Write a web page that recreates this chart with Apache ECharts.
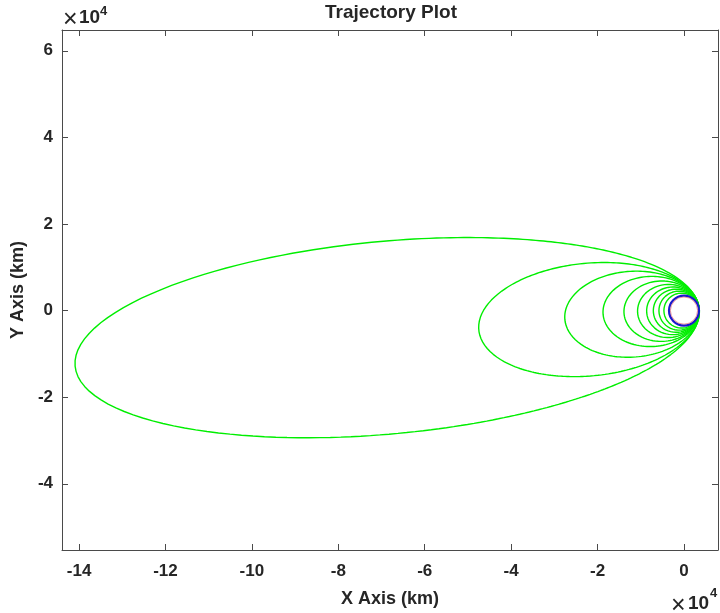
<!DOCTYPE html>
<html>
<head>
<meta charset="utf-8">
<script src="https://cdn.jsdelivr.net/npm/echarts@6/dist/echarts.min.js"></script>
<style>
  html, body { margin: 0; padding: 0; background: #fff; }
  #chart { width: 720px; height: 613px; }
</style>
</head>
<body>
<div id="chart"></div>
<script>
// Orbit sequence: each revolution is a focal ellipse around the central body.
const apoapsisKm = [141500, 47700, 27650, 18750, 13900, 10750, 8650, 7100, 5800, 4650];
const periapsisKm = [3500, 3550, 3550, 3500, 3500, 3500, 3500, 3500, 3500, 3500];
const periapsisArgDeg = [5.2, 5.4, 4.0, 1.6, 1.6, 1.5, 1.3, 1.0, 0.8, 0.5];

// Central body drawn at the origin
const bodyRadiusKm = 3470;

// Tick positions (km) and axis extents
const xTicks = [-140000, -120000, -100000, -80000, -60000, -40000, -20000, 0];
const yTicks = [-40000, -20000, 0, 20000, 40000, 60000];
const xRange = [-143950, 7870];
const yRange = [-55300, 64800];

const FONT = '"Liberation Sans", Arial, Helvetica, sans-serif';
const INK = '#262626';
const AXIS = '#4a4a4a';

// Sample each Keplerian orbit from its apsides and argument of periapsis.
function orbitPoints(ra, rp, wDeg) {
  const a = (ra + rp) / 2;
  const e = (ra - rp) / (ra + rp);
  const p = a * (1 - e * e);
  const w = wDeg * Math.PI / 180;
  const pts = [];
  const n = 720;
  for (let i = 0; i <= n; i++) {
    const nu = (i / n) * 2 * Math.PI;
    const r = p / (1 + e * Math.cos(nu));
    pts.push([r * Math.cos(nu + w), r * Math.sin(nu + w)]);
  }
  return pts;
}

const orbitSeries = apoapsisKm.map((ra, i) => ({
  type: 'line',
  name: 'orbit' + (i + 1),
  data: orbitPoints(ra, periapsisKm[i], periapsisArgDeg[i]),
  showSymbol: false,
  symbol: 'none',
  smooth: false,
  silent: true,
  lineStyle: { color: '#00ee00', width: 1.4 },
  z: 2,
  animation: false
}));

const bodySeries = {
  type: 'custom',
  name: 'body',
  data: [[0, 0, bodyRadiusKm]],
  encode: { x: 0, y: 1 },
  silent: true,
  z: 5,
  animation: false,
  renderItem: function (params, api) {
    const c = api.coord([api.value(0), api.value(1)]);
    const r = api.size([api.value(2), 0])[0];
    return {
      type: 'group',
      children: [
        { type: 'circle', shape: { cx: c[0], cy: c[1], r: r },
          style: { fill: '#ffffff', stroke: '#1a1acc', lineWidth: 2.2 } },
        { type: 'circle', shape: { cx: c[0], cy: c[1], r: r - 1.4 },
          style: { fill: 'none', stroke: '#e05060', lineWidth: 0.6 } }
      ]
    };
  }
};

function baseAxisLine() {
  return { show: true, onZero: false, lineStyle: { color: AXIS, width: 1 } };
}

const chart = echarts.init(document.getElementById('chart'), null, { renderer: 'canvas' });

chart.setOption({
  animation: false,
  backgroundColor: '#ffffff',
  grid: { left: 62, right: 2, top: 30, bottom: 63, containLabel: false },
  xAxis: [
    {
      type: 'value', position: 'bottom', min: xRange[0], max: xRange[1],
      name: 'X Axis (km)', nameLocation: 'middle', nameGap: 40,
      nameTextStyle: { fontFamily: FONT, fontWeight: 'bold', fontSize: 18, color: INK },
      axisLine: baseAxisLine(),
      axisTick: { show: true, inside: true, length: 6, customValues: xTicks, lineStyle: { color: AXIS } },
      axisLabel: { show: true, customValues: xTicks, margin: 13, fontFamily: FONT, fontWeight: 'bold',
                   fontSize: 17, color: INK, formatter: v => String(Math.round(v / 1e4)) },
      splitLine: { show: false }
    },
    {
      type: 'value', position: 'top', min: xRange[0], max: xRange[1],
      axisLine: baseAxisLine(),
      axisTick: { show: true, inside: true, length: 6, customValues: xTicks, lineStyle: { color: AXIS } },
      axisLabel: { show: false },
      splitLine: { show: false }
    }
  ],
  yAxis: [
    {
      type: 'value', position: 'left', min: yRange[0], max: yRange[1],
      name: 'Y Axis (km)', nameLocation: 'middle', nameGap: 31, nameRotate: 90,
      nameTextStyle: { fontFamily: FONT, fontWeight: 'bold', fontSize: 18, color: INK },
      axisLine: baseAxisLine(),
      axisTick: { show: true, inside: true, length: 6, customValues: yTicks, lineStyle: { color: AXIS } },
      axisLabel: { show: true, customValues: yTicks, margin: 9, fontFamily: FONT, fontWeight: 'bold',
                   fontSize: 17, color: INK, formatter: v => String(Math.round(v / 1e4)) },
      splitLine: { show: false }
    },
    {
      type: 'value', position: 'right', min: yRange[0], max: yRange[1],
      axisLine: baseAxisLine(),
      axisTick: { show: true, inside: true, length: 6, customValues: yTicks, lineStyle: { color: AXIS } },
      axisLabel: { show: false },
      splitLine: { show: false }
    }
  ],
  graphic: [
    { type: 'text', x: 391, y: 13,
      style: { text: 'Trajectory Plot', fontFamily: FONT, fontWeight: 'bold', fontSize: 19,
               fill: INK, align: 'center', verticalAlign: 'middle' } },
    // exponent marker above the y axis
    { type: 'text', x: 63, y: 20,
      style: { text: '×', fontFamily: FONT, fontSize: 25,
               fill: INK, align: 'left', verticalAlign: 'middle' } },
    { type: 'text', x: 79, y: 18,
      style: { text: '10', fontFamily: FONT, fontWeight: 'bold', fontSize: 19,
               fill: INK, align: 'left', verticalAlign: 'middle' } },
    { type: 'text', x: 100, y: 11,
      style: { text: '4', fontFamily: FONT, fontWeight: 'bold', fontSize: 13,
               fill: INK, align: 'left', verticalAlign: 'middle' } },
    // exponent marker under the x axis
    { type: 'text', x: 671, y: 606,
      style: { text: '×', fontFamily: FONT, fontSize: 25,
               fill: INK, align: 'left', verticalAlign: 'middle' } },
    { type: 'text', x: 688, y: 604,
      style: { text: '10', fontFamily: FONT, fontWeight: 'bold', fontSize: 19,
               fill: INK, align: 'left', verticalAlign: 'middle' } },
    { type: 'text', x: 710, y: 593,
      style: { text: '4', fontFamily: FONT, fontWeight: 'bold', fontSize: 13,
               fill: INK, align: 'left', verticalAlign: 'middle' } }
  ],
  series: orbitSeries.concat([bodySeries])
});
</script>
</body>
</html>
